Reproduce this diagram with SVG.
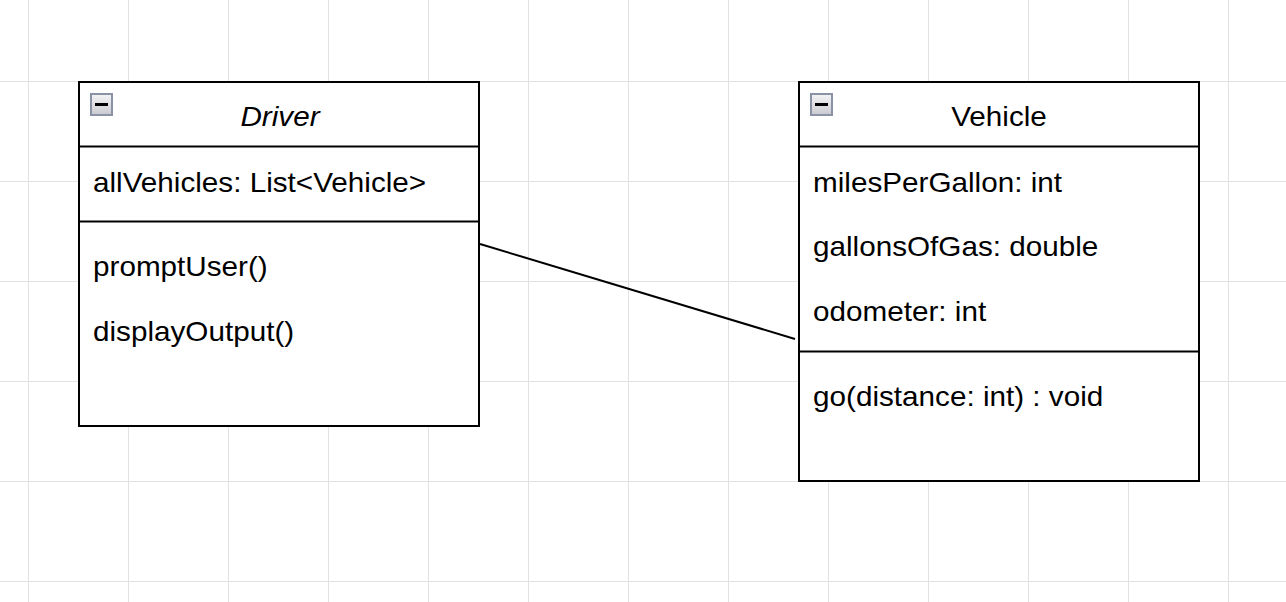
<svg xmlns="http://www.w3.org/2000/svg" width="1286" height="602" viewBox="0 0 1286 602">
<defs>
<pattern id="minor" width="25" height="25" patternUnits="userSpaceOnUse" x="3" y="6">
<path d="M25.5 0V25M0 25.5H25" fill="none" stroke="#f1f1f1" stroke-width="1"/>
</pattern>
<pattern id="major" width="100" height="100" patternUnits="userSpaceOnUse" x="28" y="81">
<path d="M0.5 0V100M0 0.5H100" fill="none" stroke="#e2e2e2" stroke-width="1"/>
</pattern>
<linearGradient id="ig" x1="0" y1="0" x2="0" y2="1">
<stop offset="0" stop-color="#f4f4f6"/>
<stop offset="1" stop-color="#c9cad0"/>
</linearGradient>
</defs>
<style>
.box{fill:#ffffff;stroke:#000000;stroke-width:2}
.div{stroke:#000000;stroke-width:2;fill:none}
.t{font-family:"Liberation Sans",Arial,sans-serif;font-size:28px;fill:#000000}
.h{text-anchor:middle}
.it{font-style:italic}
.icon{fill:url(#ig);stroke:#8a93a6;stroke-width:2}
.minus{stroke:#000000;stroke-width:3}
.edge{stroke:#000000;stroke-width:2;fill:none}
</style>
<rect width="1286" height="602" fill="#ffffff"/>
<rect width="1286" height="602" fill="url(#minor)"/>
<rect width="1286" height="602" fill="url(#major)"/>
<g id="connectors">
<path class="edge" d="M480 244L795 339"/>
</g>
<g id="driver">
<rect class="box" x="79" y="82" width="400" height="344"/>
<path class="div" d="M79 146.5H479M79 221.5H479"/>
<rect class="icon" x="91" y="94" width="21" height="21"/>
<path class="minus" d="M95 104.5H108"/>
<text class="t h it" transform="translate(280 126) scale(1.06 1)">Driver</text>
<text class="t" transform="translate(93 192) scale(1.06 1)">allVehicles: List&lt;Vehicle&gt;</text>
<text class="t" transform="translate(93 276) scale(1.06 1)">promptUser()</text>
<text class="t" transform="translate(93 341) scale(1.06 1)">displayOutput()</text>
</g>
<g id="vehicle">
<rect class="box" x="799" y="82" width="400" height="399"/>
<path class="div" d="M799 146.5H1199M799 351.5H1199"/>
<rect class="icon" x="811" y="94" width="21" height="21"/>
<path class="minus" d="M815 104.5H828"/>
<text class="t h" transform="translate(999 126) scale(1.06 1)">Vehicle</text>
<text class="t" transform="translate(813 192) scale(1.06 1)">milesPerGallon: int</text>
<text class="t" transform="translate(813 256) scale(1.06 1)">gallonsOfGas: double</text>
<text class="t" transform="translate(813 321) scale(1.06 1)">odometer: int</text>
<text class="t" transform="translate(813 406) scale(1.06 1)">go(distance: int) : void</text>
</g>
</svg>
